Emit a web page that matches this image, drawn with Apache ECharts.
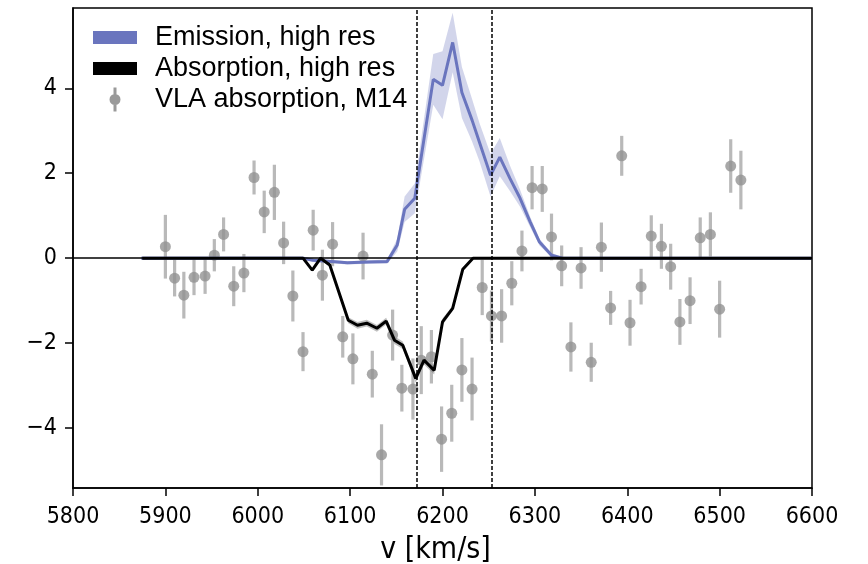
<!DOCTYPE html>
<html>
<head>
<meta charset="utf-8">
<script src="https://cdn.jsdelivr.net/npm/echarts@6/dist/echarts.min.js"></script>
<style>html,body{margin:0;padding:0;background:#fff}#c{width:868px;height:564px}</style>
</head>
<body>
<div id="c"></div>
<script>
// ---- data ----
var emisV   = [5874,6049,6060,6080,6097,6120,6140,6151,6159,6170,6190,6200,6211,6221,6232,6240,6252,6262,6273,6284,6295,6305,6318,6330,6600];
var emisY   = [0,0,-0.05,-0.08,-0.11,-0.09,-0.08,0.31,1.15,1.41,4.21,4.07,5.08,3.9,3.25,2.73,1.95,2.38,1.88,1.41,0.85,0.38,0.07,0,0];
var emisErr = [0.04,0.04,0.04,0.04,0.04,0.04,0.05,0.15,0.3,0.35,0.6,0.8,0.7,0.6,0.5,0.45,0.5,0.45,0.3,0.2,0.12,0.08,0.05,0.03,0.03];

var absV   = [5875,6049,6059,6068,6078,6098,6108,6118,6129,6139,6148,6157,6171,6180,6191,6200,6211,6222,6233,6600];
var absY   = [0,0,-0.28,0,-0.16,-1.46,-1.58,-1.53,-1.65,-1.48,-1.93,-2.05,-2.83,-2.4,-2.64,-1.5,-1.18,-0.26,0,0];
var absErr = [0.02,0.02,0.04,0.04,0.05,0.07,0.08,0.08,0.08,0.08,0.09,0.09,0.1,0.1,0.1,0.08,0.06,0.04,0.02,0.02];

var vlaV = [5900,5910,5920,5931,5943,5953,5963,5974,5985,5996,6007,6018,6028,6038,6049,6060,6070,6081,6092,6103,6114,6124,6134,6146,6156,6168,6177,6188,6199,6210,6221,6232,6243,6253,6264,6275,6286,6297,6308,6318,6329,6339,6350,6361,6372,6382,6394,6403,6415,6426,6437,6447,6457,6468,6479,6490,6500,6512,6523];
var vlaY = [0.27,-0.47,-0.87,-0.45,-0.42,0.07,0.56,-0.66,-0.35,1.9,1.09,1.55,0.36,-0.89,-2.2,0.66,-0.4,0.33,-1.85,-2.37,0.05,-2.73,-4.63,-1.81,-3.06,-3.08,-2.4,-2.32,-4.26,-3.65,-2.63,-3.08,-0.69,-1.36,-1.36,-0.59,0.17,1.66,1.63,0.5,-0.18,-2.09,-0.23,-2.45,0.26,-1.17,2.41,-1.52,-0.67,0.52,0.28,-0.2,-1.5,-1.0,0.48,0.56,-1.2,2.17,1.84];
var vlaErr = [0.75,0.43,0.55,0.42,0.42,0.38,0.4,0.47,0.45,0.4,0.5,0.65,0.5,0.6,0.46,0.48,0.6,0.52,0.49,0.6,0.55,0.55,0.72,0.6,0.55,0.72,0.8,0.63,0.77,0.67,0.75,0.74,0.65,0.6,0.63,0.52,0.48,0.51,0.54,0.55,0.48,0.58,0.49,0.46,0.58,0.4,0.47,0.54,0.42,0.49,0.53,0.54,0.54,0.55,0.48,0.52,0.67,0.63,0.69];

var dashV = [6172, 6253];
var yTicks = [-4,-2,0,2,4];
var names = ['Emission, high res','Absorption, high res','VLA absorption, M14'];

// ---- build ----
function zip2(a,b){return a.map(function(v,i){return [v,b[i]];});}
function zip3(a,b,c){return a.map(function(v,i){return [v,b[i]-c[i],b[i]+c[i]];});}

function bandSeries(rows, color, name){
  return {
    type:'custom', name:name, silent:true, z:1,
    data: rows,
    renderItem: function(params, api){
      if (params.dataIndex !== 0) return;
      var up = [], lo = [];
      for (var i=0;i<rows.length;i++){
        up.push(api.coord([rows[i][0], rows[i][2]]));
        lo.unshift(api.coord([rows[i][0], rows[i][1]]));
      }
      return {type:'polygon', shape:{points: up.concat(lo)}, style:{fill:color}};
    }
  };
}

var narrow = "'Liberation Sans Narrow','DejaVu Sans Condensed','Liberation Sans',sans-serif";
var BAR = 'rgba(128,128,128,0.55)';
var DOT = '#929292';
var BLUE = '#6a75be';

var chart = echarts.init(document.getElementById('c'), null, {renderer:'canvas'});
chart.setOption({
  animation:false,
  backgroundColor:'#fff',
  grid:{left:73, top:8, width:739, height:480, show:true, borderColor:'#000', borderWidth:1.5, outerBoundsMode:'none', containLabel:false},
  legend:{
    left:93, top:24, orient:'vertical', padding:0, itemGap:4,
    itemWidth:44, itemHeight:24, selectedMode:false,
    textStyle:{fontSize:27, color:'#000', fontFamily:"'Liberation Sans',Arial,sans-serif", lineHeight:24, padding:[0,0,0,13]},
    data:[
      {name:names[0], icon:'path://M0,0H44V13H0Z', itemStyle:{color:BLUE}},
      {name:names[1], icon:'path://M0,0H44V13H0Z', itemStyle:{color:'#000'}},
      {name:names[2], icon:'path://M4.5,0H7.5V24H4.5Z M0.5,12A5.5,5.5 0 1 1 11.5,12A5.5,5.5 0 1 1 0.5,12Z', itemStyle:{color:'#9a9a9a'}}
    ]
  },
  xAxis:{
    type:'value', min:5800, max:6600, interval:100,
    name:'v [km/s]', nameLocation:'middle', nameGap:47,
    nameTextStyle:{fontSize:30, color:'#000', fontFamily:narrow, padding:[0,14,0,0]},
    axisLine:{show:true, onZero:false, lineStyle:{color:'#000', width:1.5}},
    axisTick:{show:true, inside:false, length:8, lineStyle:{color:'#000', width:1.5}},
    axisLabel:{margin:18, fontSize:23, color:'#000', fontFamily:narrow, formatter:function(v){return String(v);}},
    splitLine:{show:false}
  },
  yAxis:{
    type:'value', min:-5.41, max:5.89,
    axisLine:{show:true, onZero:false, lineStyle:{color:'#000', width:1.5}},
    axisTick:{show:true, inside:false, length:8, customValues:yTicks, lineStyle:{color:'#000', width:1.5}},
    axisLabel:{margin:16, fontSize:23, color:'#000', fontFamily:narrow, customValues:yTicks,
      formatter:function(v){return (v<0?'\u2212':'')+Math.abs(v);}},
    splitLine:{show:false}
  },
  series:[
    bandSeries(zip3(emisV,emisY,emisErr), 'rgba(106,117,190,0.3)', names[0]),
    bandSeries(zip3(absV,absY,absErr), 'rgba(0,0,0,0.25)', names[1]),
    {
      type:'custom', name:names[2], silent:true, z:2,
      data: vlaV.map(function(v,i){return [v, vlaY[i]-vlaErr[i], vlaY[i]+vlaErr[i]];}),
      renderItem:function(params, api){
        var p1 = api.coord([api.value(0), api.value(1)]);
        var p2 = api.coord([api.value(0), api.value(2)]);
        return {type:'line', shape:{x1:p1[0], y1:p1[1], x2:p2[0], y2:p2[1]}, style:{stroke:BAR, lineWidth:3.2}};
      }
    },
    {
      type:'scatter', name:names[2], silent:true, z:3,
      data: zip2(vlaV, vlaY), symbol:'circle', symbolSize:11,
      itemStyle:{color:DOT}
    },
    {
      type:'line', name:names[0], silent:true, z:4,
      data: zip2(emisV, emisY), showSymbol:false, symbol:'none',
      lineStyle:{color:BLUE, width:3}
    },
    {
      type:'line', name:names[1], silent:true, z:5,
      data: zip2(absV, absY), showSymbol:false, symbol:'none',
      lineStyle:{color:'#000', width:3},
      markLine:{
        silent:true, symbol:'none', label:{show:false}, animation:false,
        data:[
          {yAxis:0, lineStyle:{color:'#000', width:1.5, type:'solid'}},
          {xAxis:dashV[0], lineStyle:{color:'#000', width:1.5, type:[4,2]}},
          {xAxis:dashV[1], lineStyle:{color:'#000', width:1.5, type:[4,2]}}
        ]
      }
    }
  ]
});
</script>
</body>
</html>
